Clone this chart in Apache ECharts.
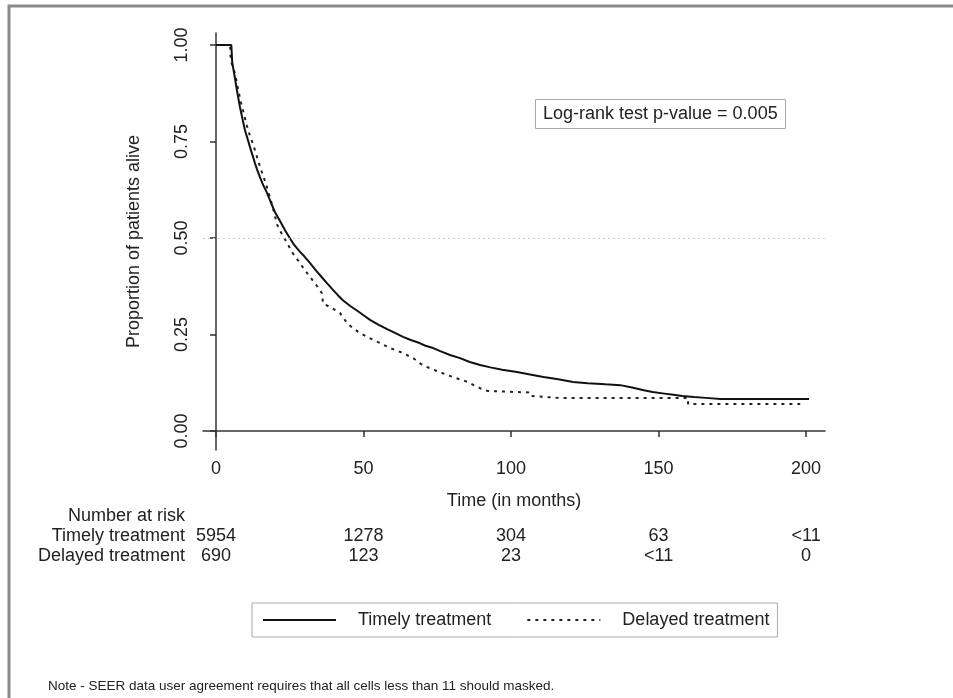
<!DOCTYPE html>
<html style="height:100%">
<head>
    <meta charset="utf-8">
    <script type="text/javascript" src="https://cdn.jsdelivr.net/npm/echarts@6/dist/echarts.min.js"></script>
    <title>Kaplan-Meier</title>
</head>
<body style="height: 100%; margin: 0; background: #fff">
    <div id="container" style="width:953px; height:698px"></div>
    <script type="text/javascript">
    var myChart = echarts.init(document.getElementById('container'));

    // survival estimates: [months, proportion alive]
    const timelyCurve = [
        [0, 1], [5.2, 1], [5.5, 0.955], [6.4, 0.915], [7.2, 0.878], [8.1, 0.84], [9, 0.808],
        [9.8, 0.78], [10.7, 0.757], [11.5, 0.736], [12.4, 0.714], [13.2, 0.694],
        [14, 0.676], [14.9, 0.658], [16, 0.637], [17.3, 0.617], [18.6, 0.592],
        [20, 0.567], [21.7, 0.544], [23.4, 0.52], [25, 0.5], [26.5, 0.482],
        [28.5, 0.464], [30, 0.452], [31.9, 0.435], [34, 0.415], [35.8, 0.399],
        [37.6, 0.383], [39.5, 0.367], [41.3, 0.352], [43, 0.339], [45.5, 0.324],
        [48, 0.311], [50, 0.3], [52.2, 0.288], [55, 0.276], [58, 0.264], [61, 0.253],
        [63.4, 0.244], [66, 0.236], [69, 0.228], [71, 0.221], [73.6, 0.215],
        [76, 0.207], [79.3, 0.197], [82.7, 0.189], [86, 0.179], [89.5, 0.171],
        [93, 0.165], [97, 0.159], [102, 0.153], [106, 0.147], [111, 0.14],
        [116, 0.134], [121, 0.127], [126, 0.124], [132, 0.121], [137, 0.119],
        [141, 0.113], [145, 0.106], [148, 0.101], [152, 0.097], [155, 0.094],
        [158, 0.091], [162, 0.088], [166, 0.086], [171, 0.083], [201, 0.083]
    ];
    const delayedCurve = [
        [0, 1], [4.8, 1], [5, 0.96], [6.5, 0.925], [7.5, 0.885], [8.5, 0.85], [9.5, 0.82],
        [10.5, 0.79], [11.5, 0.765], [12.5, 0.745], [13.5, 0.72], [14.5, 0.695],
        [15.5, 0.672], [16.5, 0.65], [17.5, 0.625], [18.5, 0.6], [19.5, 0.572],
        [20.7, 0.535], [22, 0.515], [23.5, 0.495], [26, 0.461], [28, 0.44],
        [30, 0.418], [31.9, 0.399], [34, 0.378], [35.9, 0.357], [36.3, 0.33],
        [39, 0.32], [42, 0.306], [44.4, 0.28], [46.5, 0.266], [48.8, 0.254],
        [52, 0.241], [55.6, 0.228], [59, 0.215], [63.4, 0.202], [67, 0.188],
        [69, 0.176], [71.5, 0.166], [75, 0.155], [80.3, 0.14], [85, 0.128],
        [89.5, 0.111], [92, 0.104], [106, 0.1], [106.5, 0.091], [116, 0.086],
        [160, 0.086], [160, 0.07], [198, 0.07]
    ];

    // number at risk table
    const riskTimes = [0, 50, 100, 150, 200];
    const riskTimely = ['5954', '1278', '304', '63', '<11'];
    const riskDelayed = ['690', '123', '23', '<11', '0'];
    const groupNames = ['Timely treatment', 'Delayed treatment'];

    const xTicks = [0, 50, 100, 150, 200];
    const yTicks = [0, 0.25, 0.5, 0.75, 1];

    const FONT = "'Liberation Sans', Arial, sans-serif";
    const TXT = '#222';

    var riskData = [];
    for (var i = 0; i < riskTimes.length; i++) {
        riskData.push([riskTimes[i], groupNames[0], riskTimely[i]]);
        riskData.push([riskTimes[i], groupNames[1], riskDelayed[i]]);
    }

    var option = {
        backgroundColor: '#fff',
        animation: false,
        textStyle: { fontFamily: FONT },
        title: {
            text: 'Log-rank test p-value = 0.005',
            left: 535,
            top: 99,
            padding: [6, 8, 6, 8],
            borderColor: '#aaa',
            borderWidth: 1,
            textStyle: { fontFamily: FONT, fontSize: 18, fontWeight: 'normal', color: TXT }
        },
        legend: {
            left: 252,
            top: 603,
            padding: [8, 8, 8, 10],
            itemWidth: 73,
            itemHeight: 14,
            itemGap: 35,
            borderColor: '#aaa',
            borderWidth: 1,
            // hide the marker dot, keep the line sample
            itemStyle: { opacity: 0 },
            textStyle: { fontFamily: FONT, fontSize: 18, color: TXT, padding: [0, 0, 0, 17] },
            data: groupNames
        },
        grid: [
            { left: 203, top: 33, width: 622, height: 417 },
            { left: 203, top: 526, width: 622, height: 40 }
        ],
        xAxis: [{
            type: 'value',
            min: -4.4,
            max: 206.4,
            name: 'Time (in months)',
            nameLocation: 'middle',
            nameGap: 42,
            nameTextStyle: { fontFamily: FONT, fontSize: 18, color: TXT },
            axisLine: { lineStyle: { color: '#333', width: 1.5 } },
            axisTick: { length: 6, customValues: xTicks, lineStyle: { color: '#333', width: 1.5 } },
            axisLabel: { customValues: xTicks, margin: 10, fontSize: 18, color: TXT, fontFamily: FONT },
            splitLine: { show: false }
        }, {
            type: 'value',
            gridIndex: 1,
            min: -4.4,
            max: 206.4,
            show: false
        }],
        yAxis: [{
            type: 'value',
            min: -0.049,
            max: 1.031,
            name: 'Proportion of patients alive',
            nameLocation: 'middle',
            nameGap: 60,
            nameTextStyle: { fontFamily: FONT, fontSize: 18, color: TXT },
            axisLine: { show: true, lineStyle: { color: '#333', width: 1.5 } },
            axisTick: { show: true, length: 6, customValues: yTicks, lineStyle: { color: '#333', width: 1.5 } },
            axisLabel: {
                customValues: yTicks,
                rotate: 90,
                margin: 12,
                fontSize: 18,
                color: TXT,
                fontFamily: FONT,
                formatter: function(v) { return v.toFixed(2); }
            },
            splitLine: { show: false }
        }, {
            type: 'category',
            gridIndex: 1,
            inverse: true,
            data: groupNames,
            axisLine: { show: false },
            axisTick: { show: false },
            axisLabel: { interval: 0, margin: 18, fontSize: 18, color: TXT, fontFamily: FONT },
            splitLine: { show: false }
        }],
        series: [{
            name: 'Timely treatment',
            type: 'line',
            symbol: 'none',
            data: timelyCurve,
            lineStyle: { color: '#111', width: 2 },
            itemStyle: { color: '#111' },
            markLine: {
                silent: true,
                symbol: 'none',
                label: { show: false },
                lineStyle: { color: '#ccc', type: [2, 3], width: 1 },
                data: [{ yAxis: 0.5 }]
            },
            z: 3
        }, {
            name: 'Delayed treatment',
            type: 'line',
            symbol: 'none',
            data: delayedCurve,
            lineStyle: { color: '#222', width: 2, type: [3, 5] },
            itemStyle: { color: '#222' },
            z: 2
        }, {
            // number at risk, written under the time ticks
            type: 'scatter',
            xAxisIndex: 1,
            yAxisIndex: 1,
            symbolSize: 1,
            itemStyle: { color: 'transparent', opacity: 1 },
            silent: true,
            data: riskData,
            label: {
                show: true,
                position: 'inside',
                fontSize: 18,
                color: TXT,
                fontFamily: FONT,
                formatter: function(p) { return p.value[2]; }
            }
        }],
        graphic: [{
            type: 'polyline',
            shape: { points: [[9, 698], [9, 6], [953, 6]] },
            style: { stroke: '#8a8a8a', lineWidth: 3, fill: null }
        }, {
            type: 'text',
            x: 185,
            y: 516,
            style: {
                text: 'Number at risk',
                font: '18px ' + FONT,
                fill: TXT,
                align: 'right',
                verticalAlign: 'middle'
            }
        }, {
            type: 'text',
            x: 48,
            y: 686,
            style: {
                text: 'Note - SEER data user agreement requires that all cells less than 11 should masked.',
                font: '13.5px ' + FONT,
                fill: TXT,
                align: 'left',
                verticalAlign: 'middle'
            }
        }]
    };

    myChart.setOption(option);
    </script>
</body>
</html>
